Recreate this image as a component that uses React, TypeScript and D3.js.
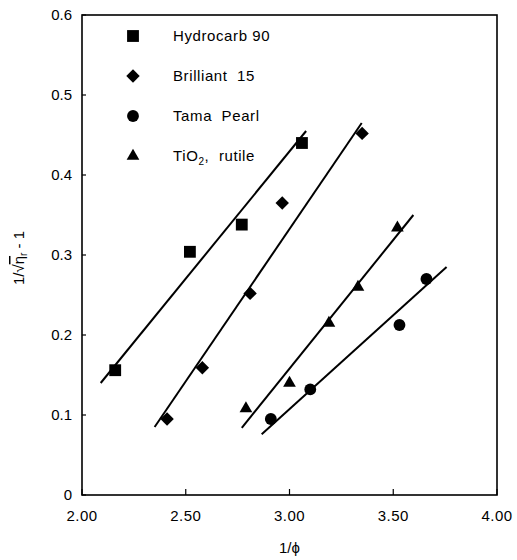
import * as d3 from "d3";

// values
const seriesNames = ["Hydrocarb 90", "Brilliant  15", "Tama  Pearl", "TiO2, rutile"];

const hydroX = [2.16, 2.52, 2.77, 3.06];
const hydroY = [0.156, 0.304, 0.338, 0.44];

const brillX = [2.41, 2.58, 2.81, 2.965, 3.35];
const brillY = [0.095, 0.159, 0.252, 0.365, 0.452];

const tamaX = [2.91, 3.1, 3.53, 3.66];
const tamaY = [0.095, 0.132, 0.2125, 0.27];

const tioX = [2.79, 3.0, 3.19, 3.33, 3.52];
const tioY = [0.108, 0.14, 0.215, 0.26, 0.334];

// fitted straight lines: [x0, x1], [y0, y1]
const fitX = [[2.09, 3.08], [2.35, 3.348], [2.866, 3.757], [2.77, 3.597]];
const fitY = [[0.14, 0.455], [0.085, 0.465], [0.076, 0.285], [0.084, 0.35]];

const xTicks = [2.0, 2.5, 3.0, 3.5, 4.0];
const yTicks = [0, 0.1, 0.2, 0.3, 0.4, 0.5, 0.6];

const width = 517;
const height = 560;
const font = "'Liberation Sans', Arial, sans-serif";

function App() {
  const x = d3.scaleLinear().domain([2, 4]).range([82, 497]);
  const y = d3.scaleLinear().domain([0, 0.6]).range([495, 15]);

  const shapes = [
    d3.symbol().type(d3.symbolSquare).size(140)(),
    d3.symbol().type(d3.symbolSquare).size(90)(),
    d3.symbol().type(d3.symbolCircle).size(110)(),
    d3.symbol().type(d3.symbolTriangle).size(70)(),
  ];
  const rot = [0, 45, 0, 0];
  const xs = [hydroX, brillX, tamaX, tioX];
  const ys = [hydroY, brillY, tamaY, tioY];

  return (
    <svg width={width} height={height} style={{ position: "absolute", left: 0, top: 0, background: "#fff" }}>
      {/* frame */}
      <rect x={x(2)} y={y(0.6)} width={x(4) - x(2)} height={y(0) - y(0.6)}
        fill="none" stroke="#000" strokeWidth={1.6} />

      {yTicks.map((t) => (
        <g key={"y" + t}>
          <line x1={x(2)} x2={x(2) + 4} y1={y(t)} y2={y(t)} stroke="#000" strokeWidth={1.2} />
          <text x={72} y={y(t)} dy="0.35em" textAnchor="end" fontFamily={font} fontSize={15}>
            {t === 0 ? "0" : d3.format(".1f")(t)}
          </text>
        </g>
      ))}

      {xTicks.map((t) => (
        <g key={"x" + t}>
          <line x1={x(t)} x2={x(t)} y1={y(0)} y2={y(0) - 6} stroke="#000" strokeWidth={1.2} />
          <text x={x(t)} y={521} textAnchor="middle" fontFamily={font} fontSize={15} letterSpacing={0.5}>
            {d3.format(".2f")(t)}
          </text>
        </g>
      ))}

      <text x={x(3)} y={553} textAnchor="middle" fontFamily={font} fontSize={15}>1/ϕ</text>

      <g transform="translate(24,258) rotate(-90)">
        <text textAnchor="middle" fontFamily={font} fontSize={15}>
          1/√<tspan style={{ textDecoration: "overline" }}>η</tspan>
          <tspan fontSize={10} dy={3}>r</tspan>
          <tspan dy={-3}> - 1</tspan>
        </text>
      </g>

      {/* fit lines */}
      {fitX.map((fx, i) => (
        <line key={"f" + i} x1={x(fx[0])} x2={x(fx[1])} y1={y(fitY[i][0])} y2={y(fitY[i][1])}
          stroke="#000" strokeWidth={2} />
      ))}

      {/* points */}
      {xs.map((sx, i) =>
        sx.map((v, j) => (
          <path key={i + "-" + j} d={shapes[i]!}
            transform={`translate(${x(v)},${y(ys[i][j])}) rotate(${rot[i]})`} fill="#000" />
        ))
      )}

      {/* legend */}
      {seriesNames.map((name, i) => (
        <g key={name} transform={`translate(133,${36 + i * 40})`}>
          <path d={shapes[i]!} transform={`rotate(${rot[i]})`} fill="#000" />
          <text x={40} dy="0.35em" fontFamily={font} fontSize={15} letterSpacing={0.6}
            style={{ whiteSpace: "pre" }}>
            {i === 3 ? (
              <>
                TiO<tspan fontSize={10} dy={4}>2</tspan><tspan dy={-4}>,  rutile</tspan>
              </>
            ) : name}
          </text>
        </g>
      ))}
    </svg>
  );
}

export default App;
